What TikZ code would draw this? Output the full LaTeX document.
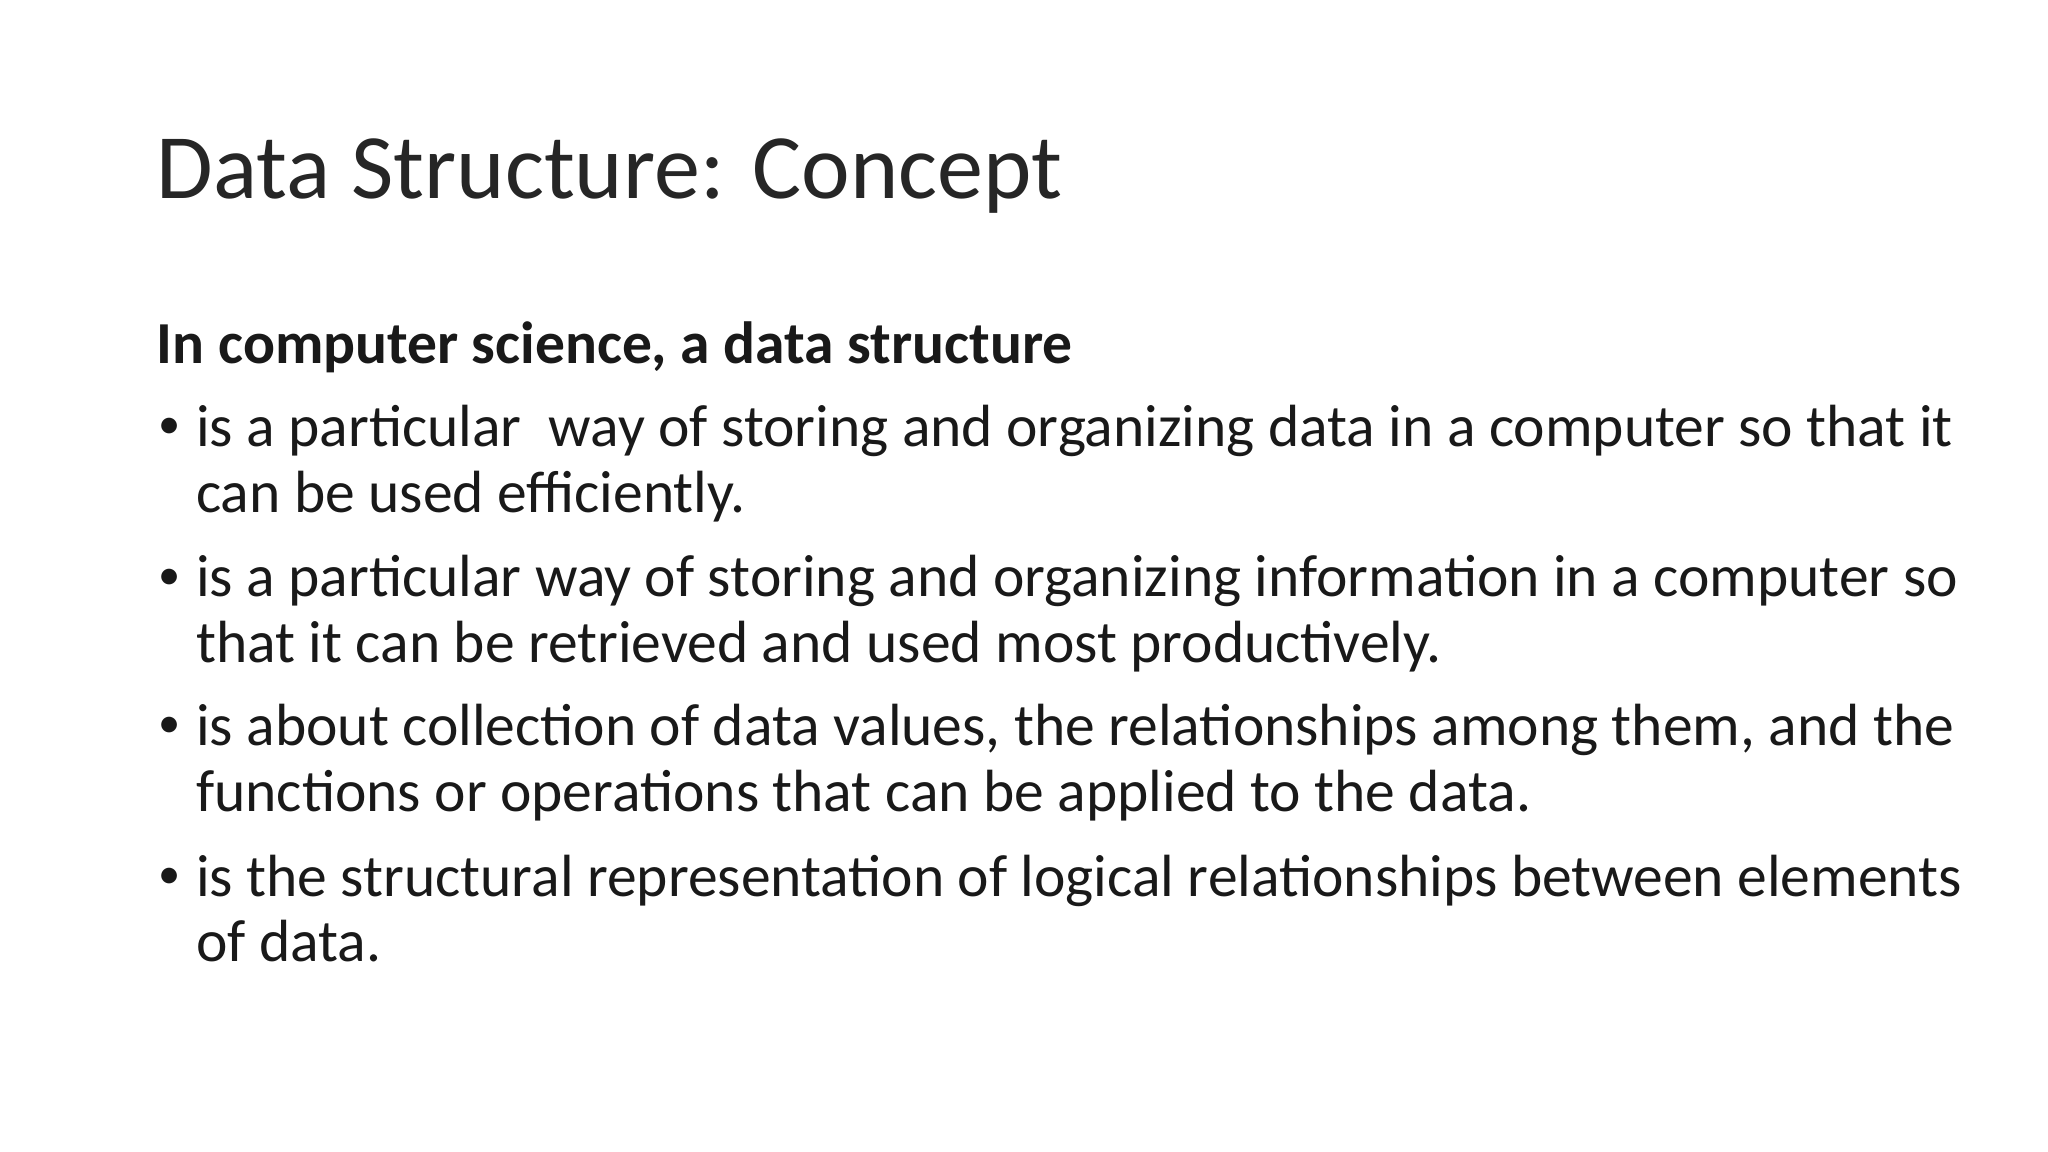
\documentclass[tikz,border=0pt]{standalone}
\usepackage{fontspec}
\setmainfont{Carlito}
\begin{document}
\begin{tikzpicture}[x=1pt,y=-1pt,
  txt/.style={anchor=base west,inner sep=0pt,font=\fontsize{45.6}{50}\selectfont,text=black!90},
  ttl/.style={anchor=base west,inner sep=0pt,font=\fontsize{70.5}{84}\selectfont,text=black!85}]
\useasboundingbox[fill=white] (0,0) rectangle (1568,882);
\node[ttl] (title) at (120,152) {Data Structure: Concept};
\node[txt,font=\fontsize{45.6}{50}\selectfont\bfseries] (head) at (120,278) {In computer science, a data structure};
\foreach \y/\a/\b [count=\i] in {
 342/{is a particular\ \ way of storing and organizing data in a computer so that it}/{can be used efficiently.},
 457/{is a particular way of storing and organizing information in a computer so}/{that it can be retrieved and used most productively.},
 571/{is about collection of data values, the relationships among them, and the}/{functions or operations that can be applied to the data.},
 686/{is the structural representation of logical relationships between elements}/{of data.}}{
 \node[txt,font=\fontsize{34}{40}\selectfont] (bul\i) at (121,\y-6) {•};
 \node[txt] (la\i) at (150,\y) {\a};
 \node[txt] (lb\i) at (150,\y+50) {\b};
}
\end{tikzpicture}
\end{document}
